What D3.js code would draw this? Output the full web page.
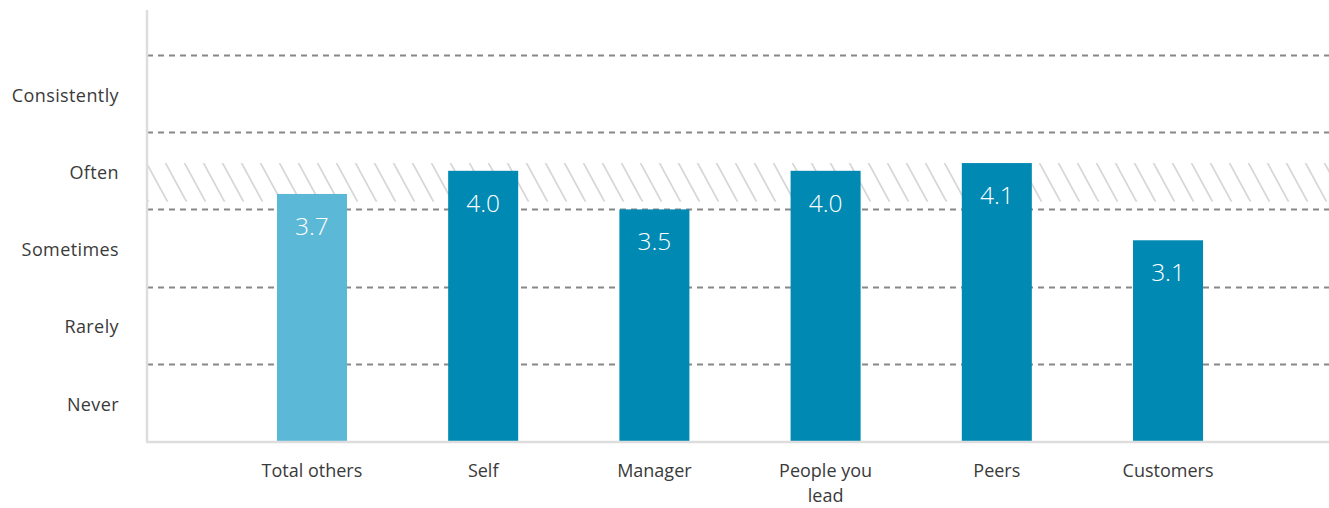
<!DOCTYPE html>
<html>
<head>
<meta charset="utf-8">
<script src="https://cdn.jsdelivr.net/npm/d3@7"></script>
<style>
  html, body { margin: 0; padding: 0; background: #fff; }
  svg text { font-family: "Open Sans", Lato, sans-serif; }
</style>
</head>
<body>
<svg id="chart" width="1329" height="508"></svg>
<script>
// Rating categories and scores
const categories = ["Total others", "Self", "Manager", "People you lead", "Peers", "Customers"];
const scores = [3.7, 4.0, 3.5, 4.0, 4.1, 3.1];
const highlight = [true, false, false, false, false, false];

// Frequency scale labels (1 = Never ... 5 = Consistently)
const levelLabels = ["Never", "Rarely", "Sometimes", "Often", "Consistently"];
const levelValues = [1, 2, 3, 4, 5];
const gridValues = [1.5, 2.5, 3.5, 4.5, 5.5];

// Norm range shown as a hatched band
const normRange = [3.6, 4.1];

const svg = d3.select("#chart");
const margin = { left: 147, right: 1329, top: 10, bottom: 441 };

const x = d3.scaleBand()
  .domain(categories)
  .range([margin.left, 1333])
  .paddingInner(0.591)
  .paddingOuter(0.759);

const y = d3.scaleLinear()
  .domain([0.5, 5.5])
  .range([margin.bottom, 55]);

// Hatch pattern: thin diagonal strokes
const defs = svg.append("defs");
const pat = defs.append("pattern")
  .attr("id", "hatch")
  .attr("patternUnits", "userSpaceOnUse")
  .attr("width", 19)
  .attr("height", 40)
  .attr("patternTransform", "skewX(28.5)");
pat.append("line")
  .attr("x1", 1).attr("y1", -2)
  .attr("x2", 1).attr("y2", 42)
  .attr("stroke", "#bcbcbc").attr("stroke-width", 1.2);

svg.append("rect")
  .attr("x", margin.left + 1)
  .attr("y", y(normRange[1]))
  .attr("width", margin.right - margin.left)
  .attr("height", y(normRange[0]) - y(normRange[1]))
  .attr("fill", "url(#hatch)");

// Dashed gridlines
svg.append("g")
  .selectAll("line")
  .data(gridValues)
  .join("line")
  .attr("x1", margin.left)
  .attr("x2", margin.right)
  .attr("y1", d => Math.round(y(d)) + 0.5)
  .attr("y2", d => Math.round(y(d)) + 0.5)
  .attr("stroke", "#888")
  .attr("stroke-width", 2)
  .attr("stroke-dasharray", "6,5");

// Bars
svg.append("g")
  .selectAll("rect")
  .data(categories)
  .join("rect")
  .attr("x", d => x(d))
  .attr("width", x.bandwidth())
  .attr("y", (d, i) => y(scores[i]))
  .attr("height", (d, i) => y(0.5) - y(scores[i]))
  .attr("fill", (d, i) => highlight[i] ? "#5bb8d6" : "#0089b3");

// Value labels inside bars
svg.append("g")
  .selectAll("text")
  .data(categories)
  .join("text")
  .attr("x", d => x(d) + x.bandwidth() / 2)
  .attr("y", (d, i) => y(scores[i]) + 41)
  .attr("text-anchor", "middle")
  .attr("fill", "#fff")
  .attr("font-size", 24.5)
  .attr("font-weight", 300)
  .text((d, i) => scores[i].toFixed(1));

// Axis lines
svg.append("line")
  .attr("x1", margin.left).attr("x2", margin.left)
  .attr("y1", margin.top).attr("y2", margin.bottom + 1)
  .attr("stroke", "#dddddd").attr("stroke-width", 2.5);
svg.append("line")
  .attr("x1", margin.left - 1).attr("x2", margin.right)
  .attr("y1", margin.bottom + 1).attr("y2", margin.bottom + 1)
  .attr("stroke", "#dddddd").attr("stroke-width", 2.5);

// Y labels
svg.append("g")
  .selectAll("text")
  .data(levelValues)
  .join("text")
  .attr("x", 119)
  .attr("y", d => y(d))
  .attr("dy", "0.45em")
  .attr("text-anchor", "end")
  .attr("fill", "#3a3a3a")
  .attr("font-size", 18)
  .attr("letter-spacing", 0.4)
  .text((d, i) => levelLabels[i]);

// X labels with wrapping
const xl = svg.append("g")
  .selectAll("text")
  .data(categories)
  .join("text")
  .attr("x", d => x(d) + x.bandwidth() / 2)
  .attr("y", 477)
  .attr("text-anchor", "middle")
  .attr("fill", "#3a3a3a")
  .attr("font-size", 18);

xl.each(function(d) {
  const t = d3.select(this);
  const words = d.split(" ");
  const maxW = 125;
  let line = [];
  let tspan = t.append("tspan").attr("x", t.attr("x")).attr("dy", 0);
  words.forEach(w => {
    line.push(w);
    tspan.text(line.join(" "));
    if (tspan.node().getComputedTextLength() > maxW && line.length > 1) {
      line.pop();
      tspan.text(line.join(" "));
      line = [w];
      tspan = t.append("tspan").attr("x", t.attr("x")).attr("dy", 25).text(w);
    }
  });
});
</script>
</body>
</html>
